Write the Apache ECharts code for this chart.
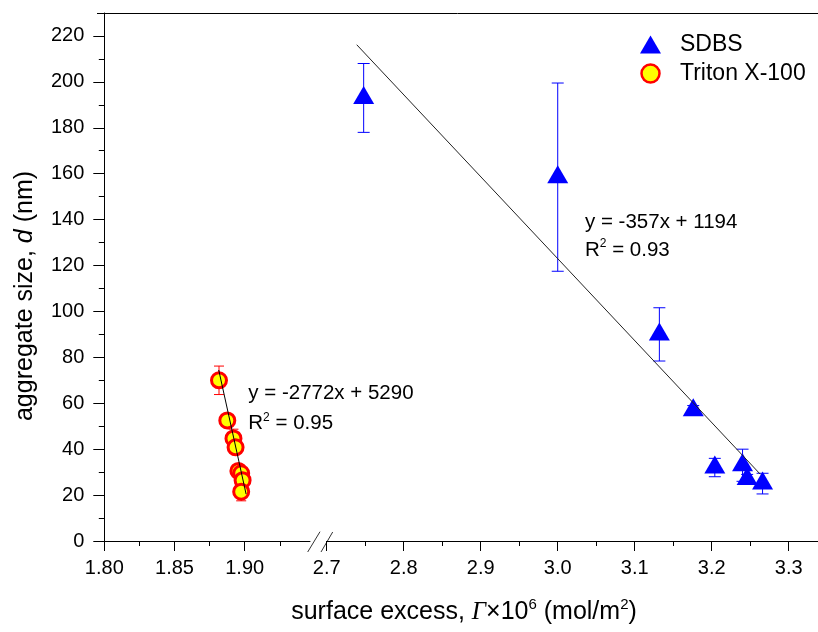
<!DOCTYPE html>
<html>
<head>
<meta charset="utf-8">
<script src="https://cdn.jsdelivr.net/npm/echarts@6/dist/echarts.min.js"></script>
<style>
  html, body { margin: 0; padding: 0; background: #fff; }
  #chart { width: 818px; height: 632px; }
</style>
</head>
<body>
<div id="chart"></div>
<script>
// Surface excess (x 10^6 mol/m2) vs aggregate size d (nm), with standard deviations
const sdbsX   = [2.748, 3.000, 3.132, 3.176, 3.204, 3.240, 3.246, 3.266];
const sdbsY   = [193, 158.5, 90, 57, 32, 33, 27, 25];
const sdbsErr = [15, 41, 11.6, 2, 4, 7, 2, 4.5];

const tritonX   = [1.8817, 1.8876, 1.8920, 1.8935, 1.8955, 1.8975, 1.8985, 1.8975];
const tritonY   = [70, 52.5, 44.7, 40.8, 30.5, 29.5, 26.5, 21.5];
const tritonErr = [6.2, 1.5, 4, 1.5, 2, 1.5, 2, 4];

// Linear fits  y = slope * x + intercept, drawn over the given x span
const sdbsFitCoef   = [-357, 1194];
const sdbsFitSpan   = [2.739, 3.263];
const tritonFitCoef = [-2772, 5290];
const tritonFitSpan = [1.8815, 1.901];

// Tick positions on both pieces of the broken x axis and on the y axis
const leftTicks  = [1.80, 1.85, 1.90];
const leftMinor  = [1.825, 1.875, 1.925];
const rightTicks = [2.7, 2.8, 2.9, 3.0, 3.1, 3.2, 3.3];
const rightMinor = [2.75, 2.85, 2.95, 3.05, 3.15, 3.25];
const yTicks = [0, 20, 40, 60, 80, 100, 120, 140, 160, 180, 200, 220];
const yMinor = [10, 30, 50, 70, 90, 110, 130, 150, 170, 190, 210];

const FONT = 'Liberation Sans, Arial, Helvetica, sans-serif';
const INK = '#000';

const fitPoints = (coef, span) => span.map(x => [x, coef[0] * x + coef[1]]);

function errorBars(xs, ys, errs, color, cap, xi, yi) {
  return {
    type: 'custom',
    xAxisIndex: xi,
    yAxisIndex: yi,
    z: 1,
    silent: true,
    data: xs.map((x, i) => [x, ys[i] - errs[i], ys[i] + errs[i]]),
    renderItem(params, api) {
      const lo = api.coord([api.value(0), api.value(1)]);
      const hi = api.coord([api.value(0), api.value(2)]);
      const h = cap / 2;
      const st = { stroke: color, lineWidth: 1 };
      return {
        type: 'group',
        children: [
          { type: 'line', shape: { x1: lo[0], y1: lo[1], x2: hi[0], y2: hi[1] }, style: st },
          { type: 'line', shape: { x1: lo[0] - h, y1: lo[1], x2: lo[0] + h, y2: lo[1] }, style: st },
          { type: 'line', shape: { x1: hi[0] - h, y1: hi[1], x2: hi[0] + h, y2: hi[1] }, style: st }
        ]
      };
    }
  };
}

function majorX(grid, min, max, ticks, digits) {
  return {
    type: 'value', gridIndex: grid, min: min, max: max, position: 'bottom',
    axisLine: { show: true, onZero: false, lineStyle: { color: INK, width: 1 } },
    axisTick: { show: true, inside: false, length: 10, customValues: ticks, lineStyle: { color: INK } },
    axisLabel: { show: true, customValues: ticks, margin: 17, fontSize: 20, fontFamily: FONT, color: INK,
                 formatter: v => v.toFixed(digits) },
    splitLine: { show: false }
  };
}
function minorX(grid, min, max, ticks) {
  return {
    type: 'value', gridIndex: grid, min: min, max: max, position: 'bottom',
    axisLine: { show: false, onZero: false },
    axisTick: { show: true, inside: false, length: 5, customValues: ticks, lineStyle: { color: INK } },
    axisLabel: { show: false },
    splitLine: { show: false }
  };
}

const chart = echarts.init(document.getElementById('chart'), null, { renderer: 'canvas' });

const option = {
  animation: false,
  backgroundColor: '#fff',
  grid: [
    { left: 104.3, top: 13, width: 205.7, height: 528 },
    { left: 326.7, top: 13, right: 0, height: 528 }
  ],
  xAxis: [
    majorX(0, 1.80, 1.94651, leftTicks, 2),
    minorX(0, 1.80, 1.94651, leftMinor),
    majorX(1, 2.7, 3.338, rightTicks, 1),
    minorX(1, 2.7, 3.338, rightMinor)
  ],
  yAxis: [
    {
      type: 'value', gridIndex: 0, min: 0, max: 230, position: 'left',
      axisLine: { show: true, onZero: false, lineStyle: { color: INK, width: 1 } },
      axisTick: { show: true, inside: false, length: 11, customValues: yTicks, lineStyle: { color: INK } },
      axisLabel: { show: true, customValues: yTicks, margin: 20, fontSize: 20, fontFamily: FONT, color: INK },
      splitLine: { show: false }
    },
    {
      type: 'value', gridIndex: 0, min: 0, max: 230, position: 'left',
      axisLine: { show: false, onZero: false },
      axisTick: { show: true, inside: false, length: 5.5, customValues: yMinor, lineStyle: { color: INK } },
      axisLabel: { show: false },
      splitLine: { show: false }
    },
    { type: 'value', gridIndex: 1, min: 0, max: 230, show: false }
  ],
  legend: {
    orient: 'vertical',
    left: 635, top: 28,
    itemWidth: 21, itemHeight: 18, itemGap: 6,
    selectedMode: false,
    textStyle: { fontSize: 23, fontFamily: FONT, color: INK, padding: [0, 0, 0, 14] },
    data: [
      { name: 'SDBS', icon: 'triangle', itemStyle: { color: '#0000ff', borderWidth: 0 } },
      { name: 'Triton X-100', icon: 'circle',
        itemStyle: { color: '#ffff00', borderColor: '#ff0000', borderWidth: 2.5 } }
    ]
  },
  series: [
    errorBars(sdbsX, sdbsY, sdbsErr, '#0000ff', 12, 2, 2),
    errorBars(tritonX, tritonY, tritonErr, '#ff0000', 10, 0, 0),
    {
      name: 'SDBS', type: 'scatter', xAxisIndex: 2, yAxisIndex: 2, z: 2,
      symbol: 'triangle', symbolSize: [21, 18], symbolOffset: [0, -3],
      itemStyle: { color: '#0000ff', opacity: 1 },
      data: sdbsX.map((x, i) => [x, sdbsY[i]])
    },
    {
      name: 'Triton X-100', type: 'scatter', xAxisIndex: 0, yAxisIndex: 0, z: 2,
      symbol: 'circle', symbolSize: 15,
      itemStyle: { color: '#ffff00', borderColor: '#ff0000', borderWidth: 3, opacity: 1 },
      data: tritonX.map((x, i) => [x, tritonY[i]])
    },
    {
      type: 'line', xAxisIndex: 2, yAxisIndex: 2, z: 3, silent: true,
      showSymbol: false, symbol: 'none',
      lineStyle: { color: '#222', width: 1 },
      data: fitPoints(sdbsFitCoef, sdbsFitSpan)
    },
    {
      type: 'line', xAxisIndex: 0, yAxisIndex: 0, z: 3, silent: true,
      showSymbol: false, symbol: 'none',
      lineStyle: { color: '#000', width: 1 },
      data: fitPoints(tritonFitCoef, tritonFitSpan)
    }
  ],
  graphic: [
    // top frame line
    { type: 'line', silent: true, shape: { x1: 97, y1: 13.5, x2: 818, y2: 13.5 },
      style: { stroke: INK, lineWidth: 1 } },
    // axis break marks
    { type: 'line', silent: true, shape: { x1: 307.7, y1: 552, x2: 320, y2: 531.7 },
      style: { stroke: '#333', lineWidth: 1 } },
    { type: 'line', silent: true, shape: { x1: 321, y1: 552, x2: 332.7, y2: 532 },
      style: { stroke: '#333', lineWidth: 1 } },
    // fit equations
    { type: 'text', silent: true, x: 585, y: 222,
      style: { text: 'y = -357x + 1194', fontSize: 20.5, fontFamily: FONT, fill: INK,
               align: 'left', verticalAlign: 'middle' } },
    { type: 'text', silent: true, x: 585, y: 250,
      style: { text: 'R{s|2} = 0.93', fontSize: 20.5, fontFamily: FONT, fill: INK,
               align: 'left', verticalAlign: 'middle', lineHeight: 24,
               rich: { s: { fontSize: 12, fontFamily: FONT, lineHeight: 12, verticalAlign: 'top', fill: INK } } } },
    { type: 'text', silent: true, x: 248.3, y: 393.5,
      style: { text: 'y = -2772x + 5290', fontSize: 20.5, fontFamily: FONT, fill: INK,
               align: 'left', verticalAlign: 'middle' } },
    { type: 'text', silent: true, x: 248.3, y: 423.5,
      style: { text: 'R{s|2} = 0.95', fontSize: 20.5, fontFamily: FONT, fill: INK,
               align: 'left', verticalAlign: 'middle', lineHeight: 24,
               rich: { s: { fontSize: 12, fontFamily: FONT, lineHeight: 12, verticalAlign: 'top', fill: INK } } } },
    // axis titles
    { type: 'text', silent: true, x: 464, y: 612,
      style: { text: 'surface excess, {g|Γ}×10{s|6} (mol/m{s|2})', fontSize: 25, fontFamily: FONT, fill: INK,
               align: 'center', verticalAlign: 'middle', lineHeight: 30,
               rich: {
                 g: { fontSize: 25, fontFamily: 'Liberation Serif, Times New Roman, serif', fontStyle: 'italic', lineHeight: 30, fill: INK },
                 s: { fontSize: 15, fontFamily: FONT, lineHeight: 15, verticalAlign: 'top', fill: INK }
               } } },
    { type: 'text', silent: true, x: 25, y: 296, rotation: Math.PI / 2,
      style: { text: 'aggregate size, {i|d} (nm)', fontSize: 25, fontFamily: FONT, fill: INK,
               align: 'center', verticalAlign: 'middle', lineHeight: 30,
               rich: { i: { fontSize: 25, fontFamily: FONT, fontStyle: 'italic', lineHeight: 30, fill: INK } } } }
  ]
};

chart.setOption(option);
</script>
</body>
</html>
